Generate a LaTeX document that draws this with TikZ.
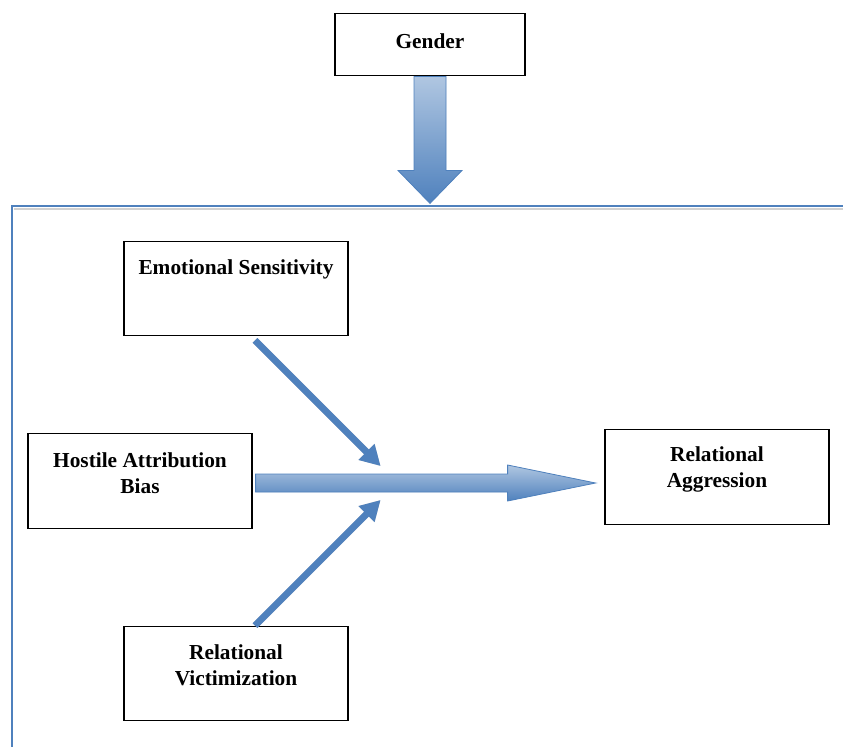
\documentclass[tikz,border=0pt]{standalone}
\usepackage{fontspec}
\setmainfont{Liberation Serif}
\usetikzlibrary{calc, arrows.meta, backgrounds, positioning}
\definecolor{accent}{HTML}{4F81BD}
\begin{document}
\begin{tikzpicture}[x=0.75pt, y=-0.75pt]
    \tikzset{
      box/.style={draw, line width=0.9pt, minimum width=168pt, minimum height=71pt, inner sep=0pt},
      boxtext/.style={font=\fontsize{16}{19.5}\selectfont\bfseries, align=center},
      fatarrow/.style={draw=accent, line width=0.6pt, top color=accent!45, bottom color=accent},
      shade/.style={fill=black!18},
      thinarrow/.style={draw=accent, line width=5pt, -{Triangle[length=15pt, width=16pt]}},
      shadearrow/.style={draw=black!18, line width=5pt, -{Triangle[length=15pt, width=16pt]}},
    }
    \useasboundingbox (0,0) rectangle (843,747);
    \node [box, minimum width=142.5pt, minimum height=47pt,
      label={[boxtext, yshift=2.6pt]center:Gender}] (gender) at (430,44.5) {};
    \node [box, label={[boxtext, yshift=14pt]center:Emotional Sensitivity}] (es) at (236,288.5) {};
    \node [box, label={[boxtext, yshift=5.6pt]center:{Hostile Attribution\\Bias}}] (hab) at (140,481) {};
    \node [box, label={[boxtext, yshift=6pt]center:{Relational\\Aggression}}] (ra) at (717,477) {};
    \node [box, label={[boxtext, yshift=6.4pt]center:{Relational\\Victimization}}] (rv) at (236,673.5) {};

    \coordinate (frametl) at (12,206);
    \coordinate (mstart) at ($(hab.east)+(3,2)$);
    \coordinate (meetup) at ($(mstart)+(125,-17)$);
    \coordinate (meetdown) at ($(mstart)+(125,17)$);
    \coordinate (esfoot) at ($(es.south)+(19,4)$);
    \coordinate (rvhead) at ($(rv.north)+(19,0)$);

    \begin{scope}[on background layer]
      \draw [black!18, line width=1.5pt] ($(frametl)+(2,3)$) -- (843,209);
      \path [shade, shift={(2,3)}, shift={(mstart)}]
        (0,-9) -- (252,-9) -- (252,-18) -- (340,0) -- (252,18) -- (252,9) -- (0,9) -- cycle;
      \path [shade, shift={(2,3)}, shift={(gender.south)}]
        (-16,0) -- (16,0) -- (16,94) -- (32,94) -- (0,127) -- (-32,94) -- (-16,94) -- cycle;
      \draw [shadearrow, shift={(2,3)}] (esfoot) -- (meetup);
      \draw [shadearrow, shift={(2,3)}] (rvhead) -- (meetdown);
    \end{scope}

    \draw [accent, line width=1.5pt] (843,206) -- (frametl) -- (12,747);
    \path [fatarrow, shift={(gender.south)}]
      (-16,0) -- (16,0) -- (16,94) -- (32,94) -- (0,127) -- (-32,94) -- (-16,94) -- cycle;
    \path [fatarrow, shift={(mstart)}]
      (0,-9) -- (252,-9) -- (252,-18) -- (340,0) -- (252,18) -- (252,9) -- (0,9) -- cycle;
    \draw [thinarrow] (esfoot) -- (meetup);
    \draw [thinarrow] (rvhead) -- (meetdown);
  \end{tikzpicture}
\end{document}
